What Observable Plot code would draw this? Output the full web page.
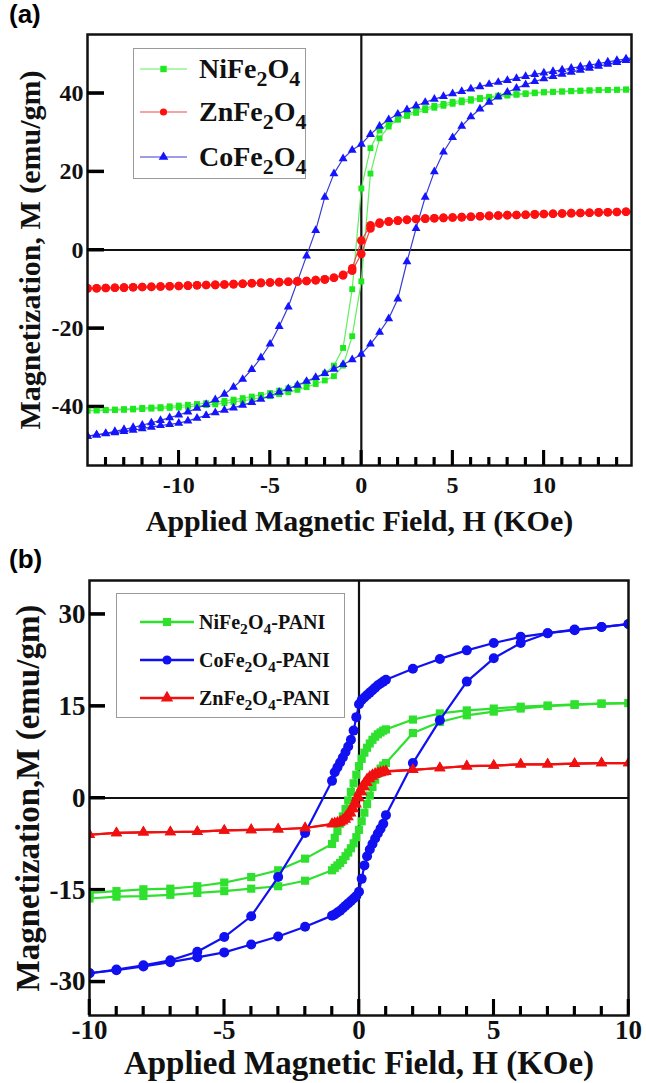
<!DOCTYPE html>
<html><head><meta charset="utf-8">
<script src="https://cdn.jsdelivr.net/npm/d3@7"></script>
<script src="https://cdn.jsdelivr.net/npm/@observablehq/plot@0.6"></script>
<style>
html,body{margin:0;padding:0;background:#fff;}
body{width:646px;height:1083px;overflow:hidden;}
.panel{position:relative;width:646px;}
.tag{position:absolute;font-family:"Liberation Sans",Arial,sans-serif;font-weight:bold;font-size:26px;line-height:1;}
.legend{position:absolute;border:1.5px solid #9a9a9a;background:#fff;box-sizing:border-box;font-family:"Liberation Serif","Times New Roman",serif;font-weight:bold;color:#111;}
.legend sub{font-size:0.78em;vertical-align:-0.35em;line-height:0;}
</style>
</head><body>
<div id="pa" class="panel" style="height:540px"></div>
<div id="pb" class="panel" style="height:543px"></div>
<script>
// ---------------- Panel (a) data ----------------
const SERIES_A = ["NiFe2O4", "ZnFe2O4", "CoFe2O4"];
const H_A = [-15,-14.5,-14,-13.5,-13,-12.5,-12,-11.5,-11,-10.5,
  -10,-9.5,-9,-8.5,-8,-7.5,-7,-6.5,-6,-5.5,
  -5,-4.5,-4,-3.5,-3,-2.5,-2,-1.5,-1,-0.5,
  0,
  0.5,1,1.5,2,2.5,3,3.5,4,4.5,5,
  5.5,6,6.5,7,7.5,8,8.5,9,9.5,10,
  10.5,11,11.5,12,12.5,13,13.5,14,14.5,15];
const NI_A_DESC = [-41,-40.9,-40.8,-40.7,-40.6,-40.5,-40.3,-40.2,-40.1,-39.9,
  -39.7,-39.5,-39.3,-39.1,-38.8,-38.5,-38.2,-37.8,-37.4,-37,
  -36.5,-35.9,-35.3,-34.6,-33.8,-32.8,-31.5,-29.5,-25,-10,
  15.7,
  26,30.5,32.2,33.3,34.2,35,35.7,36.3,36.8,37.3,
  37.7,38.1,38.5,38.8,39.1,39.4,39.6,39.8,40,40.2,
  40.3,40.4,40.5,40.6,40.7,40.8,40.85,40.9,40.95,41];
const NI_A_ASC = [-41,-40.95,-40.9,-40.85,-40.8,-40.7,-40.6,-40.5,-40.4,-40.3,
  -40.2,-40,-39.8,-39.6,-39.4,-39.1,-38.8,-38.5,-38.1,-37.7,
  -37.3,-36.8,-36.3,-35.7,-35,-34.2,-33.3,-32.2,-29.5,-22,
  -8,
  19.5,28.5,31.5,33.3,34.5,35.5,36.2,36.8,37.3,37.8,
  38.2,38.5,38.8,39.1,39.4,39.6,39.8,40,40.2,40.3,
  40.4,40.5,40.6,40.7,40.75,40.8,40.85,40.9,40.95,41];
const ZN_A_DESC = [-9.8,-9.75,-9.7,-9.65,-9.6,-9.5,-9.45,-9.4,-9.3,-9.25,
  -9.2,-9.1,-9,-8.95,-8.9,-8.8,-8.7,-8.6,-8.5,-8.4,
  -8.3,-8.2,-8.1,-8,-7.9,-7.7,-7.5,-7.1,-6.3,-4.7,
  2.4,
  6.3,7,7.3,7.5,7.7,7.9,8,8.1,8.2,8.3,
  8.4,8.5,8.6,8.7,8.8,8.9,8.95,9,9.1,9.2,
  9.25,9.3,9.4,9.45,9.5,9.6,9.65,9.7,9.75,9.8];
const ZN_A_ASC = [-9.8,-9.75,-9.7,-9.65,-9.6,-9.5,-9.45,-9.4,-9.3,-9.25,
  -9.2,-9.1,-9,-8.95,-8.9,-8.8,-8.7,-8.6,-8.5,-8.4,
  -8.3,-8.2,-8.1,-8,-7.9,-7.7,-7.5,-7.1,-6.5,-5.3,
  -1,
  5.5,6.7,7.2,7.5,7.7,7.9,8,8.1,8.2,8.3,
  8.4,8.5,8.6,8.7,8.8,8.9,8.95,9,9.1,9.2,
  9.25,9.3,9.4,9.45,9.5,9.6,9.65,9.7,9.75,9.8];
const CO_A_DESC = [-47.5,-47.2,-46.8,-46.3,-45.8,-45.3,-44.7,-44.1,-43.5,-42.8,
  -42.1,-41.3,-40.4,-39.4,-38.2,-36.8,-35,-33,-30.5,-27.5,
  -24,-19.5,-14.5,-8,-1.5,5,13.5,19.5,23.3,25.5,
  27,
  29.5,31.6,33.3,34.7,35.8,36.8,37.7,38.5,39.2,39.9,
  40.5,41.1,41.7,42.3,42.8,43.3,43.8,44.3,44.8,45.2,
  45.6,46,46.4,46.8,47.2,47.6,48,48.4,48.8,49.2];
const CO_A_ASC = [-47.5,-47.2,-46.9,-46.6,-46.3,-46,-45.6,-45.2,-44.8,-44.5,
  -44.2,-43.6,-42.9,-42.2,-41.5,-40.9,-40.3,-39.6,-38.9,-38.1,
  -37.2,-36.3,-35.4,-34.5,-33.5,-32.5,-31.5,-30.4,-29.2,-28,
  -26.6,
  -24,-21,-17.5,-12.5,-3,5.5,13.5,20,25,28.7,
  31.6,34,36,37.7,39.1,40.3,41.3,42.2,43,43.7,
  44.3,44.9,45.4,45.9,46.4,46.9,47.4,47.9,48.4,48.9];
const Y_TICKS_A = [-40, -20, 0, 20, 40];
const X_MAJOR_A = [-10, -5, 0, 5, 10];
const X_MINOR_A = [-14,-13,-12,-11,-9,-8,-7,-6,-4,-3,-2,-1,1,2,3,4,6,7,8,9,11,12,13,14];

// ---------------- Panel (b) data ----------------
const SERIES_B = ["NiFe2O4-PANI", "CoFe2O4-PANI", "ZnFe2O4-PANI"];
const H_B = [-10,-9,-8,-7,-6,-5,-4,-3,-2,-1,
  -0.9,-0.8,-0.7,-0.6,-0.5,-0.4,-0.3,-0.2,-0.1,
  0,
  0.1,0.2,0.3,0.4,0.5,0.6,0.7,0.8,0.9,
  1,2,3,4,5,6,7,8,9,10];
const NI_B_DESC = [-15.5,-15.2,-14.9,-14.8,-14.4,-13.8,-12.9,-11.8,-9.9,-7.5,
  -6.5,-5.4,-4.2,-3,-1.8,-0.4,1,2.4,3.8,
  5.2,
  6.4,7.4,8.2,8.9,9.5,10,10.4,10.7,11,
  11.2,12.8,13.8,14.3,14.6,14.9,15.1,15.3,15.4,15.5];
const NI_B_ASC = [-16.4,-16.1,-16,-15.8,-15.5,-15.2,-14.8,-14.4,-13.5,-11.8,
  -11.4,-11,-10.6,-10.1,-9.5,-8.9,-8.2,-7.4,-6.4,
  -5.2,
  -3.8,-2.4,-1,0.4,1.8,3,4,4.8,5.3,
  5.7,10.6,12.4,13.5,14.1,14.6,15,15.2,15.4,15.5];
const CO_B_DESC = [-28.6,-28,-27.3,-26.5,-25.1,-22.7,-19.3,-12.9,-5.7,2.8,
  4.2,5,5.8,6.6,7.5,8.4,9.5,11,13.2,
  15.3,
  16,16.4,16.8,17.2,17.6,18,18.4,18.7,19,
  19.3,21.1,22.7,24.1,25.3,26.3,26.9,27.5,27.9,28.4];
const CO_B_ASC = [-28.6,-28.1,-27.5,-26.8,-26,-25.2,-23.9,-22.6,-21,-19.2,
  -19,-18.7,-18.4,-18,-17.6,-17.2,-16.8,-16.4,-16,
  -15.3,
  -13.2,-11,-9.5,-8.4,-7.5,-6.6,-5.8,-5,-4.2,
  -2.8,5.7,12.7,19,22.8,25.3,26.9,27.4,27.9,28.4];
const ZN_B_DESC = [-6,-5.7,-5.6,-5.55,-5.5,-5.3,-5.2,-5.1,-4.9,-4.2,
  -4.1,-4,-3.8,-3.5,-3.1,-2.5,-1.8,-1,0,
  1,
  1.8,2.5,3.1,3.5,3.8,4,4.1,4.2,4.3,
  4.4,4.6,4.9,5.2,5.3,5.5,5.5,5.6,5.7,5.7];
const ZN_B_ASC = [-6,-5.7,-5.6,-5.55,-5.5,-5.3,-5.2,-5.1,-4.9,-4.3,
  -4.2,-4.1,-4,-3.8,-3.5,-3.1,-2.5,-1.8,-1,
  0,
  1,1.8,2.5,3.1,3.5,3.8,4,4.1,4.2,
  4.3,4.6,4.9,5.2,5.3,5.5,5.5,5.6,5.7,5.7];
const Y_TICKS_B = [-30, -15, 0, 15, 30];
const X_MAJOR_B = [-10, -5, 0, 5, 10];
const X_MINOR_B = [-9,-8,-7,-6,-4,-3,-2,-1,1,2,3,4,6,7,8,9];

const X_TITLE = "Applied Magnetic Field, H (KOe)";
const Y_TITLE_A = "Magnetization, M (emu/gm)";
const Y_TITLE_B = "Magnetization,M (emu/gm)";

// ---------------- helpers ----------------
const SERIF = "'Liberation Serif','Times New Roman',serif";
const rowsOf = (H, M, branch) => H.map((h, i) => ({H: h, M: M[i], branch}));

function seriesMarks(H, desc, asc, color, lineColor, symbol, r, lw) {
  const data = [...rowsOf(H, desc, "desc"), ...rowsOf(H, asc, "asc")];
  return [
    Plot.line(data, {x: "H", y: "M", z: "branch", stroke: lineColor, strokeWidth: lw, clip: true}),
    Plot.dot(data, {x: "H", y: "M", symbol, r, fill: color, stroke: "none", clip: true})
  ];
}

// inward ticks as short rules whose pixel length is converted to data units
function tickMarks(cfg) {
  const [x0, x1] = cfg.xDomain, [y0, y1] = cfg.yDomain;
  const xPerPx = (x1 - x0) / cfg.frameW, yPerPx = (y1 - y0) / cfg.frameH;
  return [
    Plot.ruleY(cfg.yTicks, {y: d => d, x1: () => x0, x2: () => x0 + cfg.yTick * xPerPx, stroke: "#000", strokeWidth: 3}),
    Plot.ruleX(cfg.xMinor, {x: d => d, y1: () => y0, y2: () => y0 + cfg.xMinorLen * yPerPx, stroke: "#000", strokeWidth: 2.6}),
    Plot.ruleX(cfg.xMajor, {x: d => d, y1: () => y0, y2: () => y0 + cfg.xMajorLen * yPerPx, stroke: "#000", strokeWidth: 2.6})
  ];
}

function labelMarks(cfg) {
  return [
    Plot.axisY(cfg.yTicks, {tickSize: 0, tickPadding: cfg.yPad, fontSize: cfg.tickFont, tickFormat: d => String(d), label: null}),
    Plot.axisX(cfg.xMajor, {tickSize: 0, tickPadding: cfg.xPad, fontSize: cfg.tickFont, tickFormat: d => String(d), label: null}),
    Plot.frame({strokeWidth: 2.5}),
    Plot.text([X_TITLE], {text: d => d, frameAnchor: "bottom", lineAnchor: "middle", textAnchor: "middle",
      dy: cfg.xTitleDy, fontSize: cfg.titleFont, fill: "#111"}),
    Plot.text([cfg.yTitle], {text: d => d, frameAnchor: "left", rotate: -90, lineAnchor: "middle", textAnchor: "middle",
      dx: cfg.yTitleDx, fontSize: cfg.titleFont, fill: "#111"})
  ];
}

// the same inward ticks drawn from the plot's own scales, on top of everything
function drawInwardTicks(plot, cfg) {
  const sx = plot.scale("x"), sy = plot.scale("y");
  const fx = sx.apply ? v => sx.apply(v) : d3.scaleLinear(sx.domain, sx.range);
  const fy = sy.apply ? v => sy.apply(v) : d3.scaleLinear(sy.domain, sy.range);
  const left = fx(cfg.xDomain[0]), bottom = fy(cfg.yDomain[0]);
  const g = d3.select(plot).append("g").attr("stroke", "#000").attr("fill", "none").attr("aria-label", "inward-ticks");
  cfg.yTicks.forEach(t => g.append("line").attr("x1", left).attr("x2", left + cfg.yTick)
    .attr("y1", fy(t)).attr("y2", fy(t)).attr("stroke-width", 3));
  cfg.xMinor.forEach(t => g.append("line").attr("x1", fx(t)).attr("x2", fx(t))
    .attr("y1", bottom).attr("y2", bottom - cfg.xMinorLen).attr("stroke-width", 2.6));
  cfg.xMajor.forEach(t => g.append("line").attr("x1", fx(t)).attr("x2", fx(t))
    .attr("y1", bottom).attr("y2", bottom - cfg.xMajorLen).attr("stroke-width", 2.6));
}

function addLegend(parent, cfg) {
  const box = document.createElement("div");
  box.className = "legend";
  Object.assign(box.style, {left: cfg.left + "px", top: cfg.top + "px", width: cfg.width + "px", height: cfg.height + "px"});
  cfg.items.forEach((it, i) => {
    const y = cfg.rowY[i];
    const w = cfg.lineX1 - cfg.lineX0;
    const svg = d3.create("svg").attr("width", w + 20).attr("height", 24)
      .style("position", "absolute").style("left", (cfg.lineX0 - 10) + "px").style("top", (y - 12) + "px");
    svg.append("line").attr("x1", 10).attr("x2", w + 10).attr("y1", 12).attr("y2", 12)
      .attr("stroke", it.lineColor).attr("stroke-width", cfg.lw);
    svg.append("path").attr("transform", `translate(${w / 2 + 10},12)`)
      .attr("d", d3.symbol(it.symbol, Math.PI * cfg.r * cfg.r)()).attr("fill", it.color);
    box.appendChild(svg.node());
    const span = document.createElement("span");
    span.innerHTML = it.name.replace(/(\d)/g, "<sub>$1</sub>");
    Object.assign(span.style, {position: "absolute", left: cfg.textX + "px", top: (y - 0.507 * cfg.fontSize) + "px",
      fontSize: cfg.fontSize + "px", lineHeight: "1", whiteSpace: "nowrap"});
    box.appendChild(span);
  });
  parent.appendChild(box);
}

function addTag(parent, text, left, top) {
  const t = document.createElement("div");
  t.className = "tag"; t.textContent = text;
  t.style.left = left + "px"; t.style.top = top + "px";
  parent.appendChild(t);
}

// colours
const GREEN_A = "#1ee81e", GREEN_A_LINE = "#5ef05e";
const RED_A = "#ff1010", RED_A_LINE = "#f04848";
const BLUE_A = "#1414ff", BLUE_A_LINE = "#3a3ad0";
const GREEN_B = "#2fe02f", BLUE_B = "#1010f0", RED_B = "#f01010";

// ---------------- Panel (a) ----------------
const A = {w: 646, h: 540, ml: 87, mr: 15, mt: 34, mb: 75, xd: [-15, 14.8], yd: [-55, 55]};
const cfgA = {xDomain: A.xd, yDomain: A.yd, frameW: A.w - A.ml - A.mr, frameH: A.h - A.mt - A.mb,
  yTicks: Y_TICKS_A, yTick: 17, yPad: 4, xMinor: X_MINOR_A, xMajor: X_MAJOR_A,
  xMinorLen: 8, xMajorLen: 15, xPad: 10, tickFont: 24, titleFont: 30,
  xTitleDy: 56, yTitle: Y_TITLE_A, yTitleDx: -57};
const plotA = Plot.plot({
  width: A.w, height: A.h,
  marginLeft: A.ml, marginRight: A.mr, marginTop: A.mt, marginBottom: A.mb,
  x: {domain: A.xd},
  y: {domain: A.yd},
  style: `font-family:${SERIF};font-weight:bold;background:white;overflow:visible;color:#111;`,
  marks: [
    ...tickMarks(cfgA),
    Plot.ruleX([0], {strokeWidth: 2.2}),
    Plot.ruleY([0], {strokeWidth: 2.2}),
    ...seriesMarks(H_A, NI_A_DESC, NI_A_ASC, GREEN_A, GREEN_A_LINE, "square", 3.3, 1.2),
    ...seriesMarks(H_A, CO_A_DESC, CO_A_ASC, BLUE_A, BLUE_A_LINE, "triangle", 3.3, 1.2),
    ...seriesMarks(H_A, ZN_A_DESC, ZN_A_ASC, RED_A, RED_A_LINE, "circle", 4.3, 1.2),
    ...labelMarks(cfgA)
  ]
});
const pa = document.getElementById("pa");
pa.appendChild(plotA);
drawInwardTicks(plotA, cfgA);
addTag(pa, "(a)", 9, 1);
addLegend(pa, {left: 133, top: 48, width: 173, height: 131, rowY: [20, 63, 108],
  lineX0: 6, lineX1: 53, textX: 65, fontSize: 28, lw: 1.2, r: 3.6,
  items: [
    {name: SERIES_A[0], color: GREEN_A, lineColor: GREEN_A_LINE, symbol: d3.symbolSquare},
    {name: SERIES_A[1], color: RED_A, lineColor: RED_A_LINE, symbol: d3.symbolCircle},
    {name: SERIES_A[2], color: BLUE_A, lineColor: BLUE_A_LINE, symbol: d3.symbolTriangle}
  ]});

// ---------------- Panel (b) ----------------
const B = {w: 646, h: 543, ml: 89, mr: 18, mt: 40, mb: 68, xd: [-10, 10], yd: [-35.5, 35.5]};
const cfgB = {xDomain: B.xd, yDomain: B.yd, frameW: B.w - B.ml - B.mr, frameH: B.h - B.mt - B.mb,
  yTicks: Y_TICKS_B, yTick: 16, yPad: 4, xMinor: X_MINOR_B, xMajor: X_MAJOR_B,
  xMinorLen: 9, xMajorLen: 16, xPad: 4, tickFont: 27, titleFont: 33,
  xTitleDy: 48, yTitle: Y_TITLE_B, yTitleDx: -61};
const plotB = Plot.plot({
  width: B.w, height: B.h,
  marginLeft: B.ml, marginRight: B.mr, marginTop: B.mt, marginBottom: B.mb,
  x: {domain: B.xd},
  y: {domain: B.yd},
  style: `font-family:${SERIF};font-weight:bold;background:white;overflow:visible;color:#111;`,
  marks: [
    ...tickMarks(cfgB),
    Plot.ruleX([0], {strokeWidth: 2.2}),
    Plot.ruleY([0], {strokeWidth: 2.2}),
    ...seriesMarks(H_B, NI_B_DESC, NI_B_ASC, GREEN_B, GREEN_B, "square", 4.6, 2.2),
    ...seriesMarks(H_B, CO_B_DESC, CO_B_ASC, BLUE_B, BLUE_B, "circle", 5, 2.2),
    ...seriesMarks(H_B, ZN_B_DESC, ZN_B_ASC, RED_B, RED_B, "triangle", 4.2, 2.2),
    ...labelMarks(cfgB)
  ]
});
const pb = document.getElementById("pb");
pb.appendChild(plotB);
drawInwardTicks(plotB, cfgB);
addTag(pb, "(b)", 9, 6);
addLegend(pb, {left: 116, top: 53, width: 229, height: 125, rowY: [28, 66, 104],
  lineX0: 23, lineX1: 77, textX: 82, fontSize: 20, lw: 2.5, r: 4.6,
  items: [
    {name: SERIES_B[0], color: GREEN_B, lineColor: GREEN_B, symbol: d3.symbolSquare},
    {name: SERIES_B[1], color: BLUE_B, lineColor: BLUE_B, symbol: d3.symbolCircle},
    {name: SERIES_B[2], color: RED_B, lineColor: RED_B, symbol: d3.symbolTriangle}
  ]});
</script>
</body></html>
